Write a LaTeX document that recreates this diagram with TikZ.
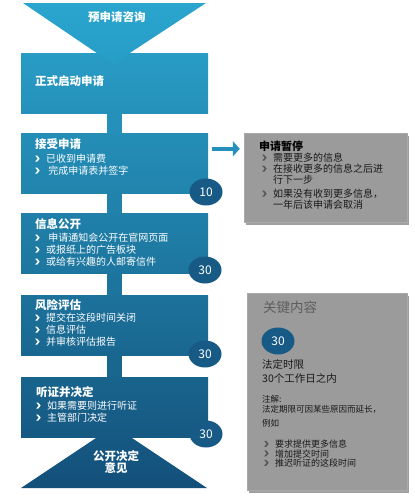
\documentclass[tikz,border=0pt]{standalone}
\usepackage{fontspec}
\setmainfont{Noto Sans CJK SC}
\usetikzlibrary{positioning,arrows.meta,shapes.geometric,shadows}
\definecolor{triTop}{HTML}{2AA5CE}
\definecolor{triBot}{HTML}{279DC6}
\definecolor{stageA1}{HTML}{289CC5}
\definecolor{stageA2}{HTML}{2591BB}
\definecolor{stageB1}{HTML}{248EB7}
\definecolor{stageB2}{HTML}{2184AD}
\definecolor{stageC1}{HTML}{2080A9}
\definecolor{stageC2}{HTML}{1D769F}
\definecolor{stageD1}{HTML}{1C729B}
\definecolor{stageD2}{HTML}{196791}
\definecolor{stageE1}{HTML}{18648D}
\definecolor{stageE2}{HTML}{165983}
\definecolor{endTop}{HTML}{165B85}
\definecolor{endBot}{HTML}{13507A}
\definecolor{badgeblue}{HTML}{175A85}
\definecolor{arrowblue}{HTML}{2690BD}
\definecolor{panelgray}{HTML}{9B9B9B}
\definecolor{chevgray}{HTML}{555555}
\definecolor{titlegray}{HTML}{5E5E5E}
\tikzset{
  stagebox/.style={rectangle, minimum width=187pt, minimum height=60pt, inner sep=0pt},
  stagetitle/.style={anchor=west, inner sep=0pt, text=white, font=\bfseries\fontsize{11.5}{13}\selectfont},
  stagelist/.style={anchor=north west, inner sep=0pt, align=left, text=white, font=\fontsize{10}{12}\selectfont},
  daybadge/.style={ellipse, fill=badgeblue, minimum width=33pt, minimum height=27pt, inner sep=0pt, text=white, font=\fontsize{12}{12}\selectfont},
  linkbar/.style={line width=15pt},
  notepanel/.style={rectangle, fill=panelgray, draw=panelgray!85!white, inner sep=0pt, drop shadow={shadow xshift=1.5pt, shadow yshift=-2.5pt, opacity=0.75}},
  notelist/.style={anchor=north west, inner sep=0pt, align=left, text=black!90},
  sidearrow/.style={-{Triangle[length=7pt,width=15pt]}, line width=4pt, draw=arrowblue}
}
\newcommand{\chev}[1]{\tikz[x=1pt,y=1pt,baseline=0pt]\fill[#1] (0,1) -- (2,1) -- (4.5,4) -- (2,7) -- (0,7) -- (2.5,4) -- cycle;}
\newcommand{\itm}[2][white]{\makebox[11pt][l]{\chev{#1}}#2}

\begin{document}
\begin{tikzpicture}[x=1pt, y=-1pt]
  \useasboundingbox (0,0) rectangle (415,499);

  % end shape sits behind the last stage
  \shade[top color=endTop, bottom color=endBot] (114,426) -- (207,488) -- (21,488) -- cycle;

  % stages
  \node[stagebox, top color=stageA1, bottom color=stageA2] (start) at (114.5,83) {};
  \node[stagebox, top color=stageB1, bottom color=stageB2] (receive) at (114.5,163) {};
  \node[stagebox, top color=stageC1, bottom color=stageC2] (publish) at (114.5,243.5) {};
  \node[stagebox, top color=stageD1, bottom color=stageD2] (risk) at (114.5,325) {};
  \node[stagebox, top color=stageE1, bottom color=stageE2] (hearing) at (114.5,407) {};

  \draw[linkbar, draw=stageA2!60!stageB1] (start.south) -- (receive.north);
  \draw[linkbar, draw=stageB2!60!stageC1] (receive.south) -- (publish.north);
  \draw[linkbar, draw=stageC2!60!stageD1] (publish.south) -- (risk.north);
  \draw[linkbar, draw=stageD2!60!stageE1] (risk.south) -- (hearing.north);

  % funnel on top
  \shade[top color=triTop, bottom color=triBot] (23,3) -- (206,3) -- (113,64) -- cycle;
  \node[stagetitle, anchor=center] (pre) at (117,17) {预申请咨询};

  \node[stagetitle] (start-t) at (35,81) {正式启动申请};

  \node[stagetitle] (receive-t) at (35,144) {接受申请};
  \node[stagelist] (receive-l) at (35,154) {\itm{已收到申请费}\\ \itm{ 完成申请表并签字}};

  \node[stagetitle] (publish-t) at (35,224) {信息公开};
  \node[stagelist] (publish-l) at (35,233) {\itm{ 申请通知会公开在官网页面}\\ \itm{或报纸上的广告板块}\\ \itm{或给有兴趣的人邮寄信件}};

  \node[stagetitle] (risk-t) at (35,305) {风险评估};
  \node[stagelist] (risk-l) at (35,313) {\itm{提交在这段时间关闭}\\ \itm{信息评估}\\ \itm{并审核评估报告}};

  \node[stagetitle] (hearing-t) at (36,392) {听证并决定};
  \node[stagelist] (hearing-l) at (36,401) {\itm{如果需要则进行听证}\\ \itm{主管部门决定}};

  \node[stagetitle, anchor=center, align=center, font=\bfseries\fontsize{11.5}{12.5}\selectfont] (result) at (116,462) {公开决定\\意见};

  % day counts
  \node[daybadge] (d1) at (206,192) {10};
  \node[daybadge] (d2) at (205,270) {30};
  \node[daybadge] (d3) at (205,354) {30};
  \node[daybadge] (d4) at (206,434) {30};

  % side notes
  \node[notepanel, minimum width=163pt, minimum height=89pt] (pause) at (325.5,177.5) {};
  \draw[sidearrow] ([shift={(4,16)}]receive.north east) -- ([shift={(-4,16)}]pause.north west);
  \node[anchor=west, inner sep=0pt, text=black, font=\bfseries\fontsize{11}{13}\selectfont] (pause-t) at (259,146) {申请暂停};
  \node[notelist, font=\fontsize{10}{11}\selectfont] (pause-l) at (262,153) {\itm[chevgray]{需要更多的信息}\\ \itm[chevgray]{在接收更多的信息之后进}\\ \hspace*{11pt}行下一步\\[3pt] \itm[chevgray]{如果没有收到更多信息，}\\ \hspace*{11pt}一年后该申请会取消};

  \node[notepanel, minimum width=160pt, minimum height=197pt] (keys) at (327,391.5) {};
  \node[anchor=west, inner sep=0pt, text=titlegray, font=\fontsize{13.5}{15}\selectfont] (keys-t) at (263,307) {关键内容};
  \node[daybadge] (d5) at (278,341) {30};
  \node[notelist, font=\fontsize{10.5}{14}\selectfont] (limit) at (262,359) {法定时限\\30个工作日之内};
  \node[notelist, font=\fontsize{8.5}{10}\selectfont] (note) at (262,395) {注解:\\法定期限可因某些原因而延长，\\[4pt]例如};
  \node[notelist, font=\fontsize{9}{9.5}\selectfont] (ways) at (264,440) {\itm[chevgray]{要求提供更多信息}\\ \itm[chevgray]{增加提交时间}\\ \itm[chevgray]{推迟听证的这段时间}};
\end{tikzpicture}
\end{document}
